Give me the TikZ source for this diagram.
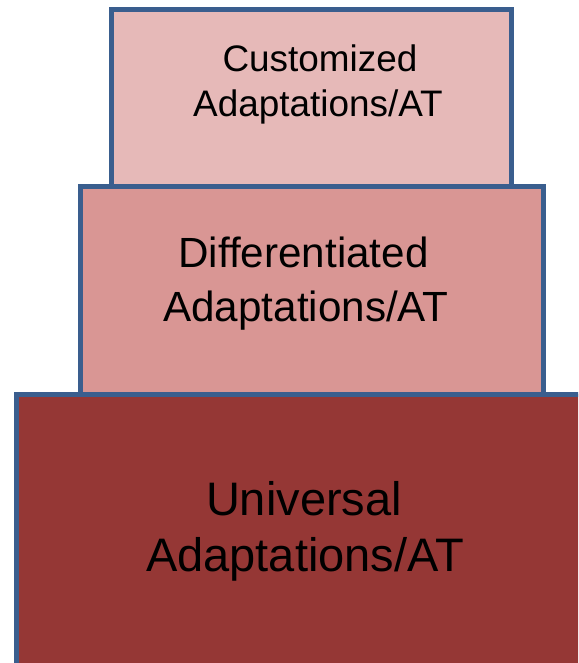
\documentclass[tikz,border=0pt]{standalone}
\usepackage{fontspec}
\setmainfont{Liberation Sans}
\definecolor{tierTop}{HTML}{E6B9B8}
\definecolor{tierMid}{HTML}{D99694}
\definecolor{tierBase}{HTML}{953735}
\definecolor{tierEdge}{HTML}{3A5E8E}
\begin{document}
\begin{tikzpicture}[x=1pt,y=-1pt,
  tier/.style={draw=tierEdge,line width=5pt,line join=miter},
  lbl/.style={anchor=base,inner sep=0pt,text=black}]
\useasboundingbox (0,0) rectangle (578,663);
\clip (0,0) rectangle (578,663);
% three stacked tiers, widest at the bottom
\draw[tier,fill=tierTop]  (111.7,10) rectangle (511.5,186);
\draw[tier,fill=tierMid]  (80,186) rectangle (543.5,394);
\draw[tier,fill=tierBase] (16,394) rectangle (620,720);
% labels
\node[lbl,font=\fontsize{36.9}{40}\selectfont] (t1) at (320,71.7) {Customized};
\node[lbl,font=\fontsize{36.9}{40}\selectfont] (t2) at (318,116.7) {Adaptations/AT};
\node[lbl,font=\fontsize{42.2}{46}\selectfont] (m1) at (303.5,267) {Differentiated};
\node[lbl,font=\fontsize{42.2}{46}\selectfont] (m2) at (306,321.5) {Adaptations/AT};
\node[lbl,font=\fontsize{47}{52}\selectfont] (b1) at (304,515) {Universal};
\node[lbl,font=\fontsize{47}{52}\selectfont] (b2) at (305,571.7) {Adaptations/AT};
\end{tikzpicture}
\end{document}
